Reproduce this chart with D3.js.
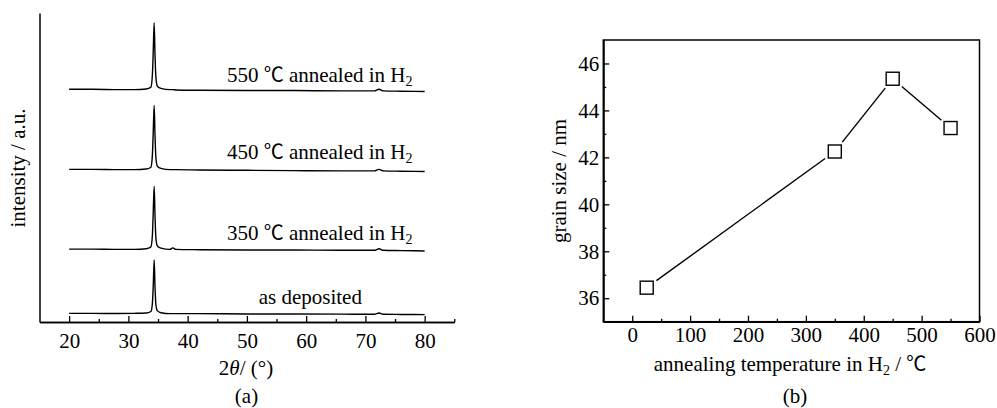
<!DOCTYPE html>
<html>
<head>
<meta charset="utf-8">
<script src="https://cdn.jsdelivr.net/npm/d3@7"></script>
<style>
  html, body { margin: 0; padding: 0; background: #fff; }
  svg { display: block; }
  text { font-family: 'Liberation Serif', 'Times New Roman', serif; fill: #000; }
  .cjk { font-family: 'Noto Sans CJK SC', 'Liberation Serif', serif; }
</style>
</head>
<body>
<svg id="chart" width="997" height="408"></svg>
<script>
// ---------- Data (a): XRD patterns ----------
const twoTheta = [20, 24, 28, 31, 33, 33.8, 34.05, 34.2, 34.35, 34.5, 34.65, 34.9, 35.5, 37, 37.5, 38, 42, 50, 58, 66, 71.5, 72.3, 73, 76, 80];
const xrdAsDeposited = [2.8, 2.8, 2.75, 2.8, 2.9, 3.4, 6, 12, 20.1, 11, 5.5, 3.6, 3.0, 2.7, 2.7, 2.7, 2.7, 2.6, 2.6, 2.55, 2.5, 2.9, 2.5, 2.45, 2.4];
const xrd350 = [23.6, 23.6, 23.5, 23.5, 23.7, 24.3, 28, 36, 43.9, 34, 27, 24.6, 23.9, 23.5, 24.0, 23.5, 23.4, 23.3, 23.3, 23.2, 23.2, 23.7, 23.2, 23.1, 23.0];
const xrd450 = [49.4, 49.4, 49.3, 49.3, 49.5, 50.1, 54, 62, 70.1, 60, 53, 50.4, 49.7, 49.3, 49.3, 49.3, 49.2, 49.1, 49.0, 48.9, 48.9, 49.4, 48.9, 48.8, 48.7];
const xrd550 = [75.3, 75.3, 75.2, 75.2, 75.4, 76.0, 80, 88, 96.8, 86, 79, 76.3, 75.6, 75.2, 75.2, 75.1, 75.0, 74.9, 74.9, 74.8, 74.8, 75.3, 74.8, 74.7, 74.6];
const xrdSeries = [xrdAsDeposited, xrd350, xrd450, xrd550];
const xrdLabels = ["as deposited", "350", "450", "550"];
const xrdTicks = [20, 30, 40, 50, 60, 70, 80];
const xrdMinorTicks = [25, 35, 45, 55, 65, 75, 85];

// ---------- Data (b): grain size ----------
const annealTemp = [25, 350, 450, 550];
const grainSize = [36.45, 42.25, 45.35, 43.25];
const tempTicks = [0, 100, 200, 300, 400, 500, 600];
const tempMinorTicks = [50, 150, 250, 350, 450, 550];
const grainTicks = [36, 38, 40, 42, 44, 46];
const grainMinorTicks = [37, 39, 41, 43, 45];

const svg = d3.select("#chart");
svg.append("rect").attr("width", 997).attr("height", 408).attr("fill", "#fff");

const FS = 21;

function styleAxis(g) {
  g.selectAll("path.domain").attr("stroke", "#000").attr("stroke-width", 1.5);
  g.selectAll(".tick line").attr("stroke", "#000").attr("stroke-width", 1.3);
  g.selectAll(".tick text").attr("font-size", FS).attr("font-family", "'Liberation Serif', serif").attr("fill", "#000");
}

// ================= Panel (a) =================
const x1 = d3.scaleLinear().domain([15, 85]).range([39.5, 454.3]);
const y1 = d3.scaleLinear().domain([0, 100]).range([322, 13]);

const pa = svg.append("g");

pa.append("g").attr("transform", "translate(0,322)")
  .call(d3.axisBottom(x1).tickValues(xrdMinorTicks).tickSizeInner(-3).tickSizeOuter(0).tickFormat(""))
  .call(styleAxis);
pa.append("g").attr("transform", "translate(0,322)")
  .call(d3.axisBottom(x1).tickValues(xrdTicks).tickSizeInner(-6).tickSizeOuter(0).tickPadding(11))
  .call(styleAxis);
pa.append("g").attr("transform", "translate(39.5,0)")
  .call(d3.axisLeft(y1).tickValues([]).tickSizeOuter(0))
  .call(styleAxis);

const line1 = d3.line().x((d, i) => x1(twoTheta[i])).y(d => y1(d)).curve(d3.curveMonotoneX);
xrdSeries.forEach(s => {
  pa.append("path").datum(s).attr("d", line1)
    .attr("fill", "none").attr("stroke", "#000").attr("stroke-width", 1.4)
    .attr("stroke-linejoin", "round");
});

// trace labels
const annLabelY = [52.7, 26.5, 77.8]; // 450, 350, 550 baselines in a.u.
function annLabel(temp, yv) {
  const t = pa.append("text").attr("x", x1(77.95)).attr("y", y1(yv))
    .attr("text-anchor", "end").attr("font-size", FS);
  t.append("tspan").text(temp + " ");
  t.append("tspan").attr("class", "cjk").style("font-family", "'Noto Sans CJK SC', serif").attr("font-size", 20).text("℃");
  t.append("tspan").text(" annealed in H");
  t.append("tspan").attr("font-size", 14).attr("dy", 4).text("2");
}
annLabel(xrdLabels[3], 77.8);
annLabel(xrdLabels[2], 52.7);
annLabel(xrdLabels[1], 26.5);
pa.append("text").attr("x", x1(60.7)).attr("y", y1(5.8)).attr("text-anchor", "middle")
  .attr("font-size", FS).text(xrdLabels[0]);

// axis titles
pa.append("text").attr("transform", "translate(25,168) rotate(-90)")
  .attr("text-anchor", "middle").attr("font-size", FS).text("intensity / a.u.");
const xt = pa.append("text").attr("x", 246).attr("y", 375).attr("text-anchor", "middle").attr("font-size", FS);
xt.append("tspan").text("2");
xt.append("tspan").attr("font-style", "italic").text("θ");
xt.append("tspan").text("/ (°)");
pa.append("text").attr("x", 246.5).attr("y", 403).attr("text-anchor", "middle").attr("font-size", FS).text("(a)");

// ================= Panel (b) =================
const x2 = d3.scaleLinear().domain([-50, 600]).range([603.3, 979.5]);
const y2 = d3.scaleLinear().domain([35, 47]).range([321.7, 40]);

const pb = svg.append("g");
pb.append("rect").attr("x", x2(-50)).attr("y", y2(47))
  .attr("width", x2(600) - x2(-50)).attr("height", y2(35) - y2(47))
  .attr("fill", "none").attr("stroke", "#000").attr("stroke-width", 1.5);

pb.append("g").attr("transform", `translate(0,${y2(35)})`)
  .call(d3.axisBottom(x2).tickValues(tempMinorTicks).tickSizeInner(-3).tickSizeOuter(0).tickFormat(""))
  .call(styleAxis);
pb.append("g").attr("transform", `translate(0,${y2(35)})`)
  .call(d3.axisBottom(x2).tickValues(tempTicks).tickSizeInner(-6).tickSizeOuter(0).tickPadding(5))
  .call(styleAxis);
pb.append("g").attr("transform", `translate(${x2(-50)},0)`)
  .call(d3.axisLeft(y2).tickValues(grainMinorTicks).tickSizeInner(-3).tickSizeOuter(0).tickFormat(""))
  .call(styleAxis);
pb.append("g").attr("transform", `translate(${x2(-50)},0)`)
  .call(d3.axisLeft(y2).tickValues(grainTicks).tickSizeInner(-6).tickSizeOuter(0).tickPadding(4))
  .call(styleAxis);
pb.selectAll("path.domain").attr("stroke-width", 1.5);

// connecting segments with gaps around markers
const gap = 12;
const pts = annealTemp.map((t, i) => [x2(t), y2(grainSize[i])]);
const segLine = d3.line();
for (let i = 0; i < pts.length - 1; i++) {
  const [ax, ay] = pts[i], [bx, by] = pts[i + 1];
  const L = Math.hypot(bx - ax, by - ay);
  const ux = (bx - ax) / L, uy = (by - ay) / L;
  pb.append("path")
    .attr("d", segLine([[ax + ux * gap, ay + uy * gap], [bx - ux * gap, by - uy * gap]]))
    .attr("stroke", "#000").attr("stroke-width", 1.4).attr("fill", "none");
}
const ms = 13;
pb.selectAll("rect.mk").data(annealTemp).join("rect").attr("class", "mk")
  .attr("x", (d) => x2(d) - ms / 2)
  .attr("y", (d, i) => y2(grainSize[i]) - ms / 2)
  .attr("width", ms).attr("height", ms)
  .attr("fill", "#fff").attr("stroke", "#000").attr("stroke-width", 1.4);

// axis titles
pb.append("text").attr("transform", "translate(566,181) rotate(-90)")
  .attr("text-anchor", "middle").attr("font-size", FS).text("grain size / nm");
const bt = pb.append("text").attr("x", 790).attr("y", 371).attr("text-anchor", "middle").attr("font-size", FS);
bt.append("tspan").text("annealing temperature in H");
bt.append("tspan").attr("font-size", 14).attr("dy", 4).text("2");
bt.append("tspan").attr("dy", -4).text(" / ");
bt.append("tspan").style("font-family", "'Noto Sans CJK SC', serif").attr("font-size", 20).text("℃");
pb.append("text").attr("x", 795).attr("y", 403).attr("text-anchor", "middle").attr("font-size", FS).text("(b)");
</script>
</body>
</html>
